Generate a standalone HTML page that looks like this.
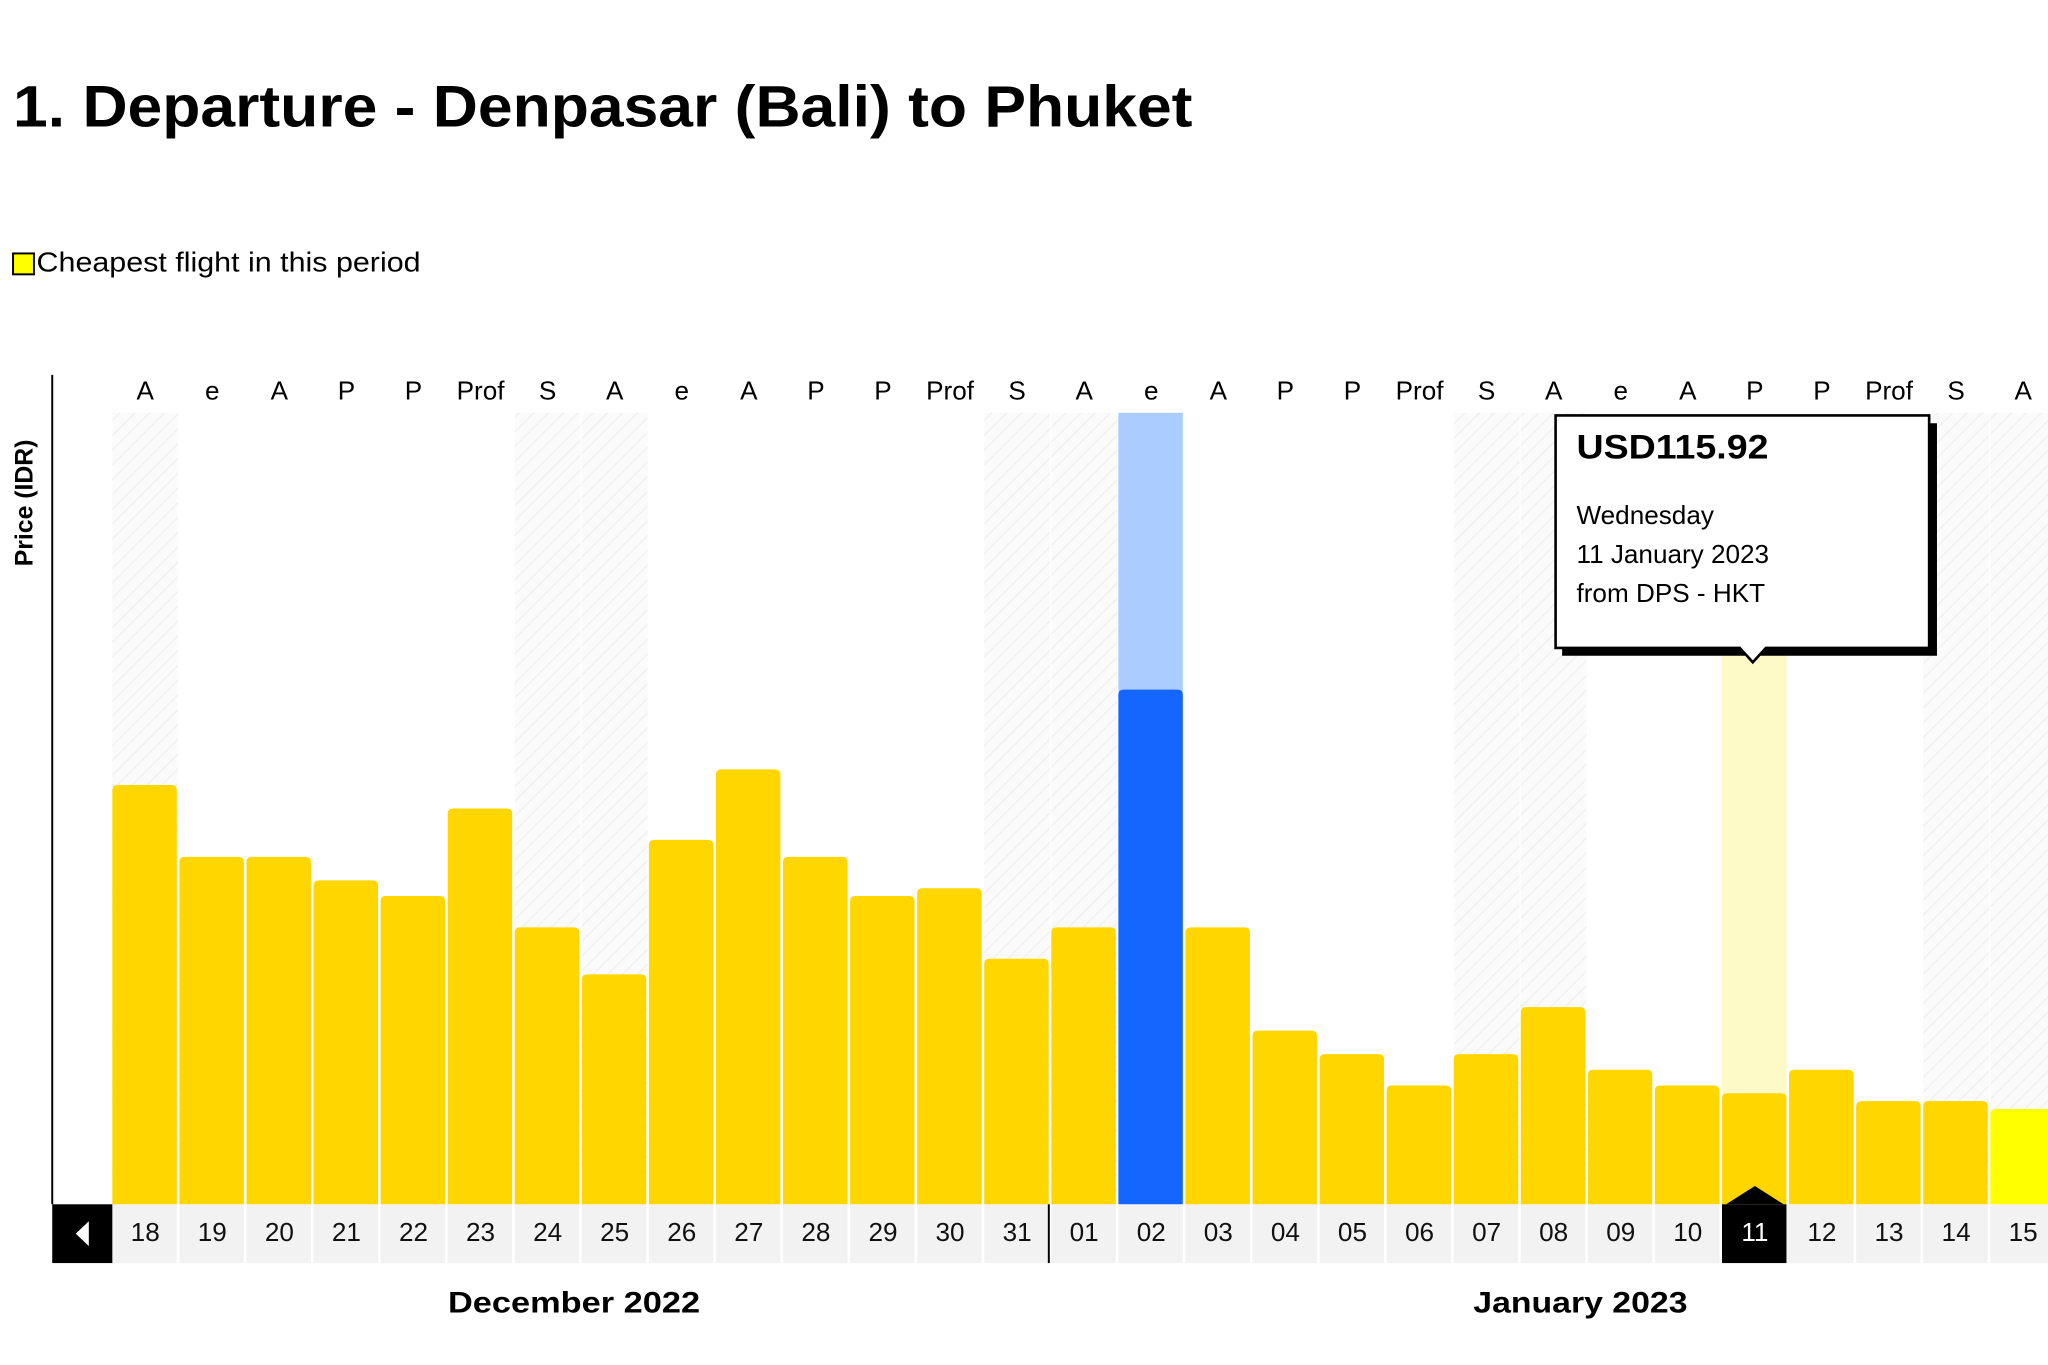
<!DOCTYPE html>
<html><head><meta charset="utf-8"><style>
html,body{margin:0;padding:0;background:#fff;width:2048px;height:1365px;overflow:hidden}
svg{display:block;font-family:"Liberation Sans",Arial,sans-serif}
</style></head><body>
<svg width="2048" height="1365" viewBox="0 0 1568 1045" xmlns="http://www.w3.org/2000/svg">
<defs>
<pattern id="h" width="8" height="8" patternUnits="userSpaceOnUse" patternTransform="rotate(45)">
<rect width="8" height="8" fill="#fbfbfb"/><line x1="0" y1="0" x2="0" y2="8" stroke="#efefef" stroke-width="2"/>
</pattern>
</defs>
<text x="10" y="97" font-size="45" font-weight="bold" fill="#000" textLength="903" lengthAdjust="spacingAndGlyphs">1. Departure - Denpasar (Bali) to Phuket</text>
<rect x="10" y="194" width="16" height="16" fill="#ffff00" stroke="#000" stroke-width="1.5"/>
<text x="28" y="208" font-size="21" fill="#000" textLength="294" lengthAdjust="spacingAndGlyphs">Cheapest flight in this period</text>
<line x1="40" y1="287" x2="40" y2="922" stroke="#000" stroke-width="1.5"/>
<text transform="translate(25,385) rotate(-90)" text-anchor="middle" font-size="19" font-weight="bold">Price (IDR)</text>
<g id="g"></g>
<text x="343" y="1005" font-size="23" font-weight="bold" textLength="193" lengthAdjust="spacingAndGlyphs">December 2022</text>
<text x="1128" y="1005" font-size="23" font-weight="bold" textLength="164" lengthAdjust="spacingAndGlyphs">January 2023</text>
</svg>
<script>
const NS="http://www.w3.org/2000/svg",g=document.getElementById('g');
function el(t,a,txt){const e=document.createElementNS(NS,t);for(const k in a)e.setAttribute(k,a[k]);if(txt!=null)e.textContent=txt;g.appendChild(e);return e;}
const days=["18","19","20","21","22","23","24","25","26","27","28","29","30","31","01","02","03","04","05","06","07","08","09","10","11","12","13","14","15"];
const tops=[601,656,656,674,686,619,710,746,643,589,656,686,680,734,710,528,710,789,807,831,807,771,819,831,837,819,843,843,849];
const lt=["A","e","A","P","P","Prof","S"];
const W=51.35;
el('rect',{x:40,y:922,width:1528,height:45,fill:'#f2f2f2'});
days.forEach((d,i)=>{
 const x=86+i*W,c=x+W/2-0.5,wd=i%7;
 if(wd==0||wd==6) el('rect',{x:x,y:316,width:W-1,height:606,fill:'url(#h)'});
 if(i==15) el('rect',{x:x,y:316,width:W-2,height:220,fill:'#aaccff'});
 if(i==24) el('rect',{x:x,y:500,width:W-2,height:345,fill:'#fdfac8'});
 let col=i==15?'#1565ff':(i==28?'#ffff00':'#ffd600');
 el('path',{d:`M${x} 922V${tops[i]+4}Q${x} ${tops[i]} ${x+4} ${tops[i]}H${x+W-6}Q${x+W-2} ${tops[i]} ${x+W-2} ${tops[i]+4}V922Z`,fill:col});
 el('text',{x:c,y:306,'text-anchor':'middle','font-size':20},lt[wd]);
 if(i==24){el('rect',{x:x,y:922,width:W-2,height:45,fill:'#000'});el('path',{d:`M${c-22} 922L${c} 908L${c+22} 922Z`,fill:'#000'});}
 else if(i<28) el('line',{x1:x+W-1,y1:922,x2:x+W-1,y2:967,stroke:'#fff','stroke-width':2});
 el('text',{x:c,y:950,'text-anchor':'middle','font-size':20,fill:i==24?'#fff':'#111'},d);
});
el('line',{x1:803,y1:922,x2:803,y2:967,stroke:'#000','stroke-width':1.5});
el('rect',{x:40,y:922,width:46,height:45,fill:'#000'});
el('path',{d:'M58 944.5L68 935V954Z',fill:'#fff'});
el('path',{d:'M1196 324H1483V502H1196Z',fill:'#000'});
el('path',{d:'M1191 318H1477V496H1352L1342 507L1332 496H1191Z',fill:'#fff',stroke:'#000','stroke-width':2});
el('text',{x:1207,y:351,'font-size':26,'font-weight':'bold',textLength:147,lengthAdjust:'spacingAndGlyphs'},'USD115.92');
el('text',{x:1207,y:401,'font-size':20},'Wednesday');
el('text',{x:1207,y:431,'font-size':20},'11 January 2023');
el('text',{x:1207,y:461,'font-size':20},'from DPS - HKT');
</script>
</body></html>
